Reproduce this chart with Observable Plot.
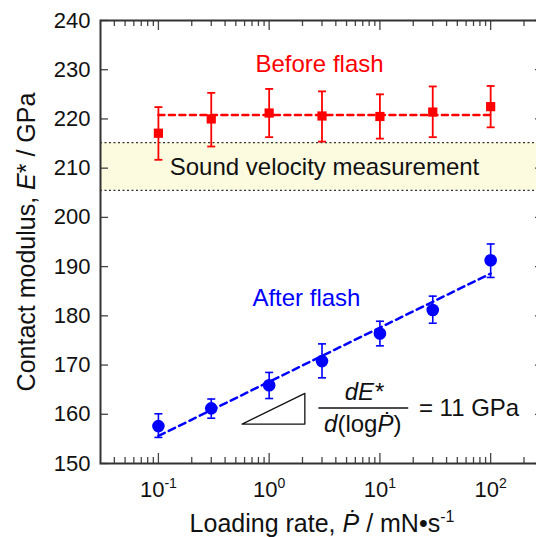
<!DOCTYPE html>
<html><head><meta charset="utf-8">
<script src="https://cdn.jsdelivr.net/npm/d3@7"></script>
<script src="https://cdn.jsdelivr.net/npm/@observablehq/plot@0.6"></script>
<style>body{margin:0;background:#fff;overflow:hidden} svg{display:block}</style>
</head><body><div id="chart"></div>
<script>
// ---- data ----
const rates = [0.1, 0.3, 1, 3, 10, 30, 100];
const beforeE  = [217.1, 220.0, 221.2, 220.6, 220.5, 221.4, 222.5];
const beforeLo = [211.7, 214.4, 216.3, 215.4, 216.0, 216.3, 218.3];
const beforeHi = [222.4, 225.3, 226.1, 225.6, 225.0, 226.6, 226.7];
const afterE   = [157.6, 161.2, 165.9, 170.8, 176.4, 181.2, 191.3];
const afterLo  = [155.3, 159.2, 163.2, 167.4, 173.9, 178.5, 187.8];
const afterHi  = [160.1, 163.1, 168.5, 174.3, 178.9, 184.0, 194.6];
const beforeFitX = [0.1, 100];
const beforeFitY = [220.8, 220.8];
const afterFitX = [0.1, 100];
const afterFitY = [155.6, 188.6];
const bandY = [205.5, 215.2];
const triX = [0.57, 2.1, 2.1, 0.57];
const triY = [158.0, 164.25, 158.0, 158.0];
const xMajor = [0.1, 1, 10, 100];
const xMajorLabels = ["10{s:-1}", "10{s:0}", "10{s:1}", "10{s:2}"];
const xMinor = [0.04,0.05,0.06,0.07,0.08,0.09,0.2,0.3,0.4,0.5,0.6,0.7,0.8,0.9,2,3,4,5,6,7,8,9,20,30,40,50,60,70,80,90,200];
const yTicks = [150,160,170,180,190,200,210,220,230,240];
const yTickLabels = yTicks.map(String);
const centerNotes = [
  {x: 2.85, y: 231.05, text: "Before flash", color: "#ff0000"},
  {x: 2.17, y: 183.5, text: "After flash", color: "#0000ff"},
  {x: 3.16, y: 210.1, text: "Sound velocity measurement", color: "#111"},
  {x: 7.2, y: 164.4, text: "{i:dE*}", color: "#111"},
  {x: 7.0, y: 158.0, text: "{i:d}(log{i:Ṗ})", color: "#111"}
];
const startNotes = [
  {x: 22.5, y: 161.2, text: "= 11 GPa", color: "#111"}
];
const fracBarX = [2.81, 18.2];
const fracBarY = 161.3;
const xLabel = "Loading rate, {i:Ṗ} / mN•s{s:-1}";
const yLabel = "Contact modulus, {i:E}* / GPa";

// ---- layout ----
const W = 536, H = 537, mL = 100, mR = -7, mT = 20, mB = 74;
const pW = W - mL - mR, pH = H - mT - mB;
const FONT = "'Liberation Sans', Arial, 'DejaVu Sans', sans-serif";

const before = rates.map((x, i) => ({x, e: beforeE[i], lo: beforeLo[i], hi: beforeHi[i]}));
const after = rates.map((x, i) => ({x, e: afterE[i], lo: afterLo[i], hi: afterHi[i]}));
const cap = {draw(ctx) { ctx.moveTo(-4, 0); ctx.lineTo(4, 0); }};

const chart = Plot.plot({
  width: W, height: H,
  marginLeft: mL, marginRight: mR, marginTop: mT, marginBottom: mB,
  style: {fontFamily: FONT, background: "#fff", overflow: "hidden"},
  x: {type: "log", domain: [0.03, 300], axis: null},
  y: {domain: [150, 240], axis: null},
  marks: [
    Plot.rect([bandY], {y1: d => d[0], y2: d => d[1], fill: "#fcfbe0"}),
    Plot.ruleY(bandY, {y: d => d, stroke: "#333", strokeWidth: 1.2, strokeDasharray: "2,2.5"}),
    // ticks
    Plot.tickX(xMajor, {x: d => d, insetTop: pH - 10, stroke: "#444", strokeWidth: 1.3}),
    Plot.tickX(xMajor, {x: d => d, insetBottom: pH - 10, stroke: "#444", strokeWidth: 1.3}),
    Plot.tickX(xMinor, {x: d => d, insetTop: pH - 6, stroke: "#444", strokeWidth: 1.3}),
    Plot.tickX(xMinor, {x: d => d, insetBottom: pH - 6, stroke: "#444", strokeWidth: 1.3}),
    Plot.tickY(yTicks, {y: d => d, insetRight: pW - 8, stroke: "#444", strokeWidth: 1.3}),
    Plot.tickY(yTicks, {y: d => d, insetLeft: pW - 8, stroke: "#444", strokeWidth: 1.3}),
    // before flash
    Plot.line(beforeFitX.map((x, i) => ({x, y: beforeFitY[i]})), {x: "x", y: "y", stroke: "#ff0000", strokeWidth: 2.5, strokeDasharray: "6,4.5"}),
    Plot.ruleX(before, {x: "x", y1: "lo", y2: "hi", stroke: "#ff0000", strokeWidth: 1.8}),
    Plot.dot(before, {x: "x", y: "lo", symbol: cap, stroke: "#ff0000", strokeWidth: 1.8}),
    Plot.dot(before, {x: "x", y: "hi", symbol: cap, stroke: "#ff0000", strokeWidth: 1.8}),
    Plot.dot(before, {x: "x", y: "e", symbol: "square", r: 5.2, fill: "#ff0000", stroke: "none"}),
    // after flash
    Plot.line(afterFitX.map((x, i) => ({x, y: afterFitY[i]})), {x: "x", y: "y", stroke: "#0000ff", strokeWidth: 2.5, strokeDasharray: "7,4.5"}),
    Plot.ruleX(after, {x: "x", y1: "lo", y2: "hi", stroke: "#0000ff", strokeWidth: 1.6}),
    Plot.dot(after, {x: "x", y: "lo", symbol: cap, stroke: "#0000ff", strokeWidth: 1.6}),
    Plot.dot(after, {x: "x", y: "hi", symbol: cap, stroke: "#0000ff", strokeWidth: 1.6}),
    Plot.dot(after, {x: "x", y: "e", r: 6.3, fill: "#0000ff", stroke: "none"}),
    // slope annotation
    Plot.line(triX.map((x, i) => ({x, y: triY[i]})), {x: "x", y: "y", stroke: "#111", strokeWidth: 1.3}),
    Plot.ruleY([fracBarY], {y: d => d, x1: fracBarX[0], x2: fracBarX[1], stroke: "#111", strokeWidth: 1.5}),
    Plot.text(centerNotes, {x: "x", y: "y", text: "text", fill: "color", textAnchor: "middle", fontSize: 24, lineAnchor: "middle"}),
    Plot.text(startNotes, {x: "x", y: "y", text: "text", fill: "color", textAnchor: "start", fontSize: 24, lineAnchor: "middle"}),
    // frame
    Plot.frame({stroke: "#333", strokeWidth: 2}),
    // tick labels
    Plot.text(xMajor, {x: d => d, text: (d, i) => xMajorLabels[i], frameAnchor: "bottom", dy: 26, fontSize: 22, fill: "#111", textAnchor: "middle", lineAnchor: "middle"}),
    Plot.text(yTicks, {y: d => d, text: (d, i) => yTickLabels[i], frameAnchor: "left", dx: -10, textAnchor: "end", fontSize: 22, fill: "#111", lineAnchor: "middle"}),
    // axis labels
    Plot.text([xLabel], {text: d => d, frameAnchor: "bottom", dy: 60, fontSize: 25, fill: "#111", textAnchor: "middle", lineAnchor: "middle"}),
    Plot.text([yLabel], {text: d => d, frameAnchor: "left", dx: -74, rotate: -90, fontSize: 25, fill: "#111", textAnchor: "middle", lineAnchor: "middle"})
  ]
});
document.getElementById("chart").appendChild(chart);

// rich text: {i:...} italic, {s:...} superscript
d3.select(chart).selectAll("text").each(function() {
  const t = this.textContent;
  if (!t.includes("{")) return;
  const fs = parseFloat(getComputedStyle(this).fontSize) || 22;
  const re = /\{([is]):([^}]*)\}/g;
  const parts = [];
  let last = 0, m;
  while ((m = re.exec(t))) {
    if (m.index > last) parts.push(["", t.slice(last, m.index)]);
    parts.push([m[1], m[2]]);
    last = re.lastIndex;
  }
  if (last < t.length) parts.push(["", t.slice(last)]);
  const sel = d3.select(this);
  sel.text(null);
  let raised = 0;
  for (const [k, s] of parts) {
    const ts = sel.append("tspan").text(s);
    if (k === "i") ts.attr("font-style", "italic");
    if (k === "s") {
      ts.attr("font-size", fs * 0.64).attr("dy", -fs * 0.4);
      raised = fs * 0.4;
    } else if (raised) {
      ts.attr("dy", raised);
      raised = 0;
    }
  }
});
</script>
</body></html>
